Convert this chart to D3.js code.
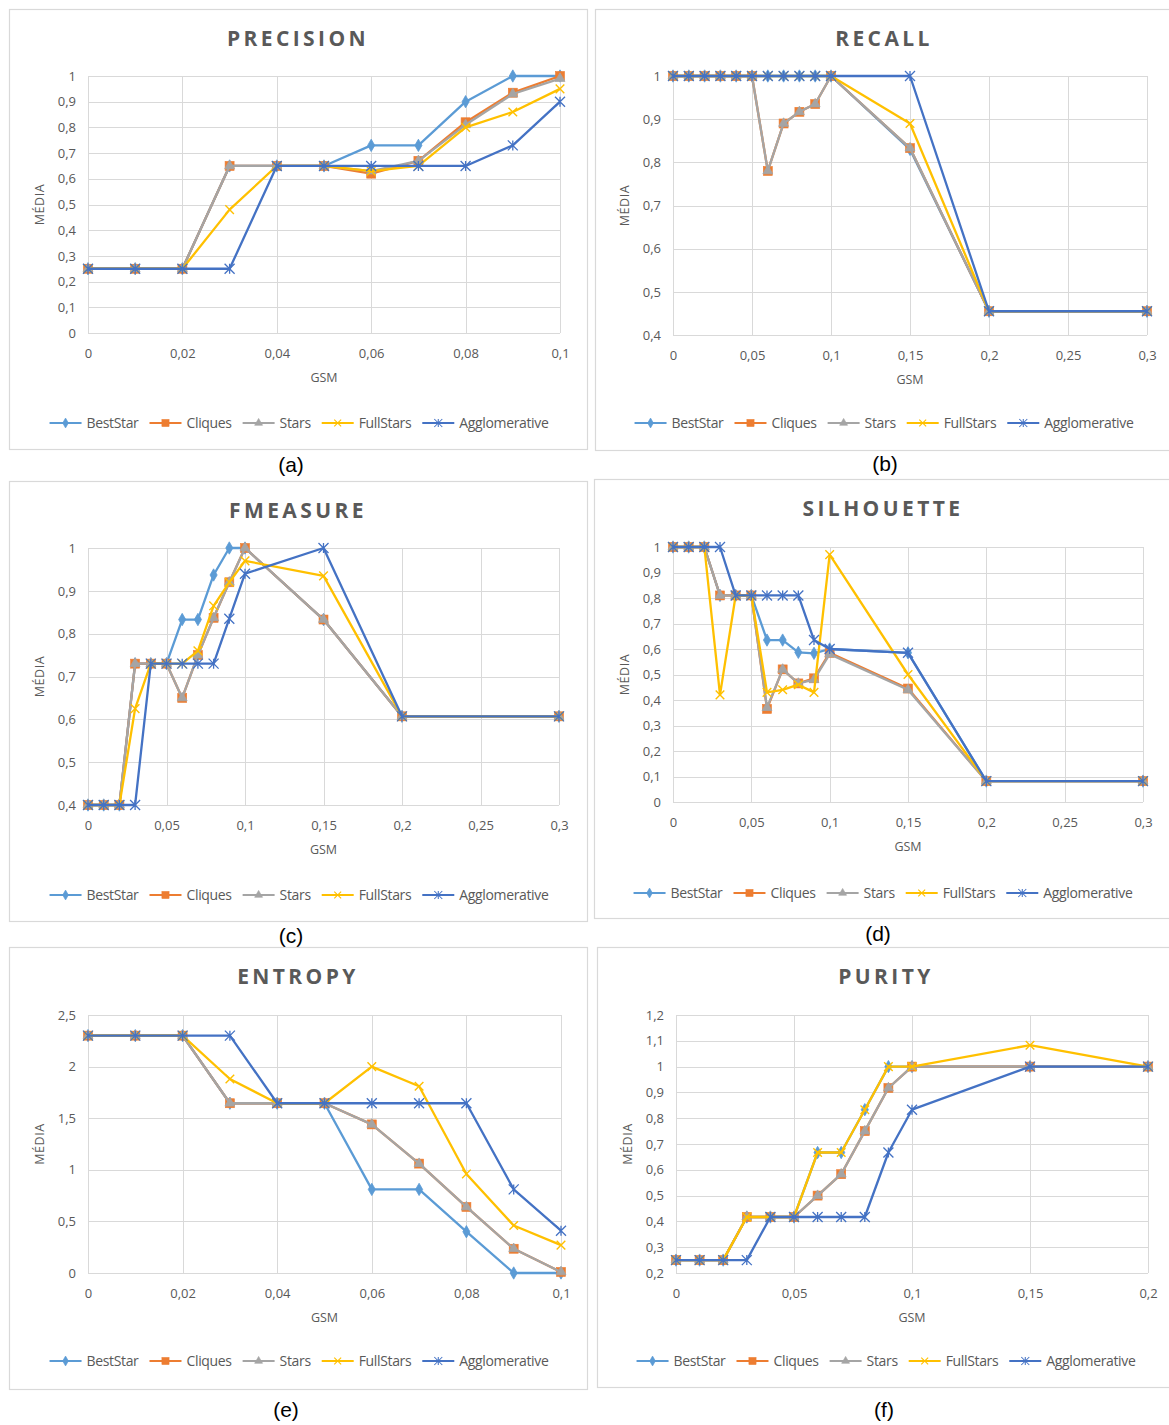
<!DOCTYPE html>
<html>
<head>
<meta charset="utf-8">
<script src="https://cdn.jsdelivr.net/npm/d3@7"></script>
<style>
  html, body { margin: 0; padding: 0; background: #ffffff; }
  svg { display: block; }
</style>
</head>
<body>
<svg id="fig" width="1169" height="1425"></svg>
<script>
// ---- GSM thresholds (x values) ----
const gsmShort = [0, 0.01, 0.02, 0.03, 0.04, 0.05, 0.06, 0.07, 0.08, 0.09, 0.1];
const gsmLong  = [0, 0.01, 0.02, 0.03, 0.04, 0.05, 0.06, 0.07, 0.08, 0.09, 0.1, 0.15, 0.2, 0.3];
const gsmMid   = [0, 0.01, 0.02, 0.03, 0.04, 0.05, 0.06, 0.07, 0.08, 0.09, 0.1, 0.15, 0.2];

// ---- algorithms ----
const algorithms = ["BestStar", "Cliques", "Stars", "FullStars", "Agglomerative"];
const colors = ["#5b9bd5", "#ed7d31", "#a5a5a5", "#ffc000", "#4472c4"];

// ---- mean values per metric (one row per algorithm, same order as above) ----
const precisionValues = [
  [0.25, 0.25, 0.25, 0.65, 0.65, 0.65, 0.73, 0.73, 0.90, 1.00, 1.00],
  [0.25, 0.25, 0.25, 0.65, 0.65, 0.65, 0.62, 0.67, 0.82, 0.935, 1.00],
  [0.25, 0.25, 0.25, 0.65, 0.65, 0.65, 0.63, 0.67, 0.81, 0.93, 0.99],
  [0.25, 0.25, 0.25, 0.48, 0.65, 0.65, 0.63, 0.65, 0.80, 0.86, 0.95],
  [0.25, 0.25, 0.25, 0.25, 0.65, 0.65, 0.65, 0.65, 0.65, 0.73, 0.90]
];
const recallValues = [
  [1, 1, 1, 1, 1, 1, 1, 1, 1, 1, 1, 0.83, 0.455, 0.455],
  [1, 1, 1, 1, 1, 1, 0.78, 0.89, 0.917, 0.935, 1, 0.833, 0.455, 0.455],
  [1, 1, 1, 1, 1, 1, 0.78, 0.89, 0.917, 0.935, 1, 0.833, 0.455, 0.455],
  [1, 1, 1, 1, 1, 1, 1, 1, 1, 1, 1, 0.89, 0.455, 0.455],
  [1, 1, 1, 1, 1, 1, 1, 1, 1, 1, 1, 1, 0.455, 0.455]
];
const fmeasureValues = [
  [0.4, 0.4, 0.4, 0.73, 0.73, 0.73, 0.833, 0.833, 0.937, 1, 1, 0.833, 0.607, 0.607],
  [0.4, 0.4, 0.4, 0.73, 0.73, 0.73, 0.65, 0.75, 0.837, 0.92, 1, 0.833, 0.607, 0.607],
  [0.4, 0.4, 0.4, 0.73, 0.73, 0.73, 0.65, 0.75, 0.837, 0.92, 1, 0.833, 0.607, 0.607],
  [0.4, 0.4, 0.4, 0.625, 0.73, 0.73, 0.73, 0.76, 0.865, 0.92, 0.97, 0.935, 0.607, 0.607],
  [0.4, 0.4, 0.4, 0.4, 0.73, 0.73, 0.73, 0.73, 0.73, 0.835, 0.94, 1, 0.607, 0.607]
];
const silhouetteValues = [
  [1, 1, 1, 0.81, 0.81, 0.81, 0.635, 0.635, 0.587, 0.583, 0.6, 0.585, 0.082, 0.082],
  [1, 1, 1, 0.81, 0.81, 0.81, 0.365, 0.52, 0.465, 0.485, 0.585, 0.445, 0.082, 0.082],
  [1, 1, 1, 0.81, 0.81, 0.81, 0.37, 0.52, 0.465, 0.48, 0.58, 0.44, 0.082, 0.082],
  [1, 1, 1, 0.42, 0.81, 0.81, 0.43, 0.44, 0.46, 0.43, 0.97, 0.5, 0.082, 0.082],
  [1, 1, 1, 1, 0.81, 0.81, 0.81, 0.81, 0.81, 0.635, 0.6, 0.585, 0.082, 0.082]
];
const entropyValues = [
  [2.3, 2.3, 2.3, 1.645, 1.645, 1.645, 0.81, 0.81, 0.40, 0, 0],
  [2.3, 2.3, 2.3, 1.645, 1.645, 1.645, 1.44, 1.06, 0.64, 0.235, 0.01],
  [2.3, 2.3, 2.3, 1.645, 1.645, 1.645, 1.44, 1.06, 0.64, 0.235, 0.01],
  [2.3, 2.3, 2.3, 1.88, 1.645, 1.645, 2.0, 1.81, 0.96, 0.46, 0.27],
  [2.3, 2.3, 2.3, 2.3, 1.645, 1.645, 1.645, 1.645, 1.645, 0.81, 0.41]
];
const purityValues = [
  [0.25, 0.25, 0.25, 0.417, 0.417, 0.417, 0.667, 0.667, 0.833, 1, 1, 1, 1],
  [0.25, 0.25, 0.25, 0.417, 0.417, 0.417, 0.5, 0.583, 0.75, 0.917, 1, 1, 1],
  [0.25, 0.25, 0.25, 0.417, 0.417, 0.417, 0.5, 0.583, 0.75, 0.917, 1, 1, 1],
  [0.25, 0.25, 0.25, 0.417, 0.417, 0.417, 0.667, 0.667, 0.833, 1, 1, 1.083, 1],
  [0.25, 0.25, 0.25, 0.25, 0.417, 0.417, 0.417, 0.417, 0.417, 0.667, 0.833, 1, 1]
];

// ---- axis tick values ----
const xTicksShort = [0, 0.02, 0.04, 0.06, 0.08, 0.1];
const xTicksLong  = [0, 0.05, 0.1, 0.15, 0.2, 0.25, 0.3];
const xTicksMid   = [0, 0.05, 0.1, 0.15, 0.2];
const yTicksUnit  = [0, 0.1, 0.2, 0.3, 0.4, 0.5, 0.6, 0.7, 0.8, 0.9, 1];
const yTicksHigh  = [0.4, 0.5, 0.6, 0.7, 0.8, 0.9, 1];
const yTicksEntropy = [0, 0.5, 1, 1.5, 2, 2.5];
const yTicksPurity  = [0.2, 0.3, 0.4, 0.5, 0.6, 0.7, 0.8, 0.9, 1, 1.1, 1.2];

// ---- panel layout ----
const panels = [
  { title: "PRECISION",  tag: "(a)", x: gsmShort, values: precisionValues,  xTicks: xTicksShort, yTicks: yTicksUnit,
    box: [9, 9, 578, 440],  plot: [88, 76, 560, 333],  tagPos: [291, 465] },
  { title: "RECALL",     tag: "(b)", x: gsmLong,  values: recallValues,     xTicks: xTicksLong,  yTicks: yTicksHigh,
    box: [595, 9, 590, 441], plot: [673, 76, 1147, 335], tagPos: [885, 464] },
  { title: "FMEASURE",   tag: "(c)", x: gsmLong,  values: fmeasureValues,   xTicks: xTicksLong,  yTicks: yTicksHigh,
    box: [9, 481, 578, 440], plot: [88, 548, 559, 805], tagPos: [291, 936] },
  { title: "SILHOUETTE", tag: "(d)", x: gsmLong,  values: silhouetteValues, xTicks: xTicksLong,  yTicks: yTicksUnit,
    box: [594, 479, 590, 439], plot: [673, 547, 1143, 802], tagPos: [878, 934] },
  { title: "ENTROPY",    tag: "(e)", x: gsmShort, values: entropyValues,    xTicks: xTicksShort, yTicks: yTicksEntropy,
    box: [9, 947, 578, 442], plot: [88, 1015, 561, 1273], tagPos: [286, 1410] },
  { title: "PURITY",     tag: "(f)", x: gsmMid,   values: purityValues,     xTicks: xTicksMid,   yTicks: yTicksPurity,
    box: [597, 947, 590, 440], plot: [676, 1015, 1148, 1273], tagPos: [884, 1410] }
];

const textColor = "#595959";
const gridColor = "#d9d9d9";
const font = "'Open Sans', 'DejaVu Sans', sans-serif";
const fmt = d => String(+d.toFixed(3)).replace(".", ",");

// marker glyphs per algorithm
function marker(sel, i, color) {
  const r = 4.3;
  if (i === 0) {
    sel.append("path").attr("d", d3.symbol(d3.symbolDiamond, 44)())
      .attr("fill", color).attr("stroke", color).attr("stroke-width", 0.8);
  } else if (i === 1) {
    sel.append("rect").attr("x", -4.5).attr("y", -4.5).attr("width", 9).attr("height", 9)
      .attr("fill", color).attr("stroke", color).attr("stroke-width", 0.6);
  } else if (i === 2) {
    sel.append("path").attr("d", d3.symbol(d3.symbolTriangle, 42)())
      .attr("fill", color).attr("stroke", color).attr("stroke-width", 0.8);
  } else if (i === 3) {
    sel.append("path").attr("d", `M${-r},${-r}L${r},${r}M${-r},${r}L${r},${-r}`)
      .attr("fill", "none").attr("stroke", color).attr("stroke-width", 1.4);
  } else {
    const q = 5;
    sel.append("path").attr("d", `M${-q},${-q}L${q},${q}M${-q},${q}L${q},${-q}M0,${-q}L0,${q}`)
      .attr("fill", "none").attr("stroke", color).attr("stroke-width", 1.3);
  }
}

const svg = d3.select("#fig");

panels.forEach(p => {
  const [bx, by, bw, bh] = p.box;
  const [pl, pt, pr, pb] = p.plot;
  const g = svg.append("g");

  // chart frame
  g.append("rect").attr("x", bx + 0.5).attr("y", by + 0.5).attr("width", bw).attr("height", bh)
    .attr("fill", "#ffffff").attr("stroke", gridColor).attr("stroke-width", 1.2);

  const x = d3.scaleLinear().domain(d3.extent(p.xTicks)).range([pl, pr]);
  const y = d3.scaleLinear().domain(d3.extent(p.yTicks)).range([pb, pt]);

  // gridlines
  g.append("g").selectAll("line.h").data(p.yTicks).join("line")
    .attr("x1", pl).attr("x2", pr).attr("y1", d => Math.round(y(d)) + 0.5).attr("y2", d => Math.round(y(d)) + 0.5)
    .attr("stroke", gridColor).attr("stroke-width", 1);
  g.append("g").selectAll("line.v").data(p.xTicks).join("line")
    .attr("y1", pt).attr("y2", pb).attr("x1", d => Math.round(x(d)) + 0.5).attr("x2", d => Math.round(x(d)) + 0.5)
    .attr("stroke", gridColor).attr("stroke-width", 1);

  // axes (labels only, no domain lines)
  const yAxis = g.append("g").attr("transform", `translate(${pl - 8},0)`)
    .call(d3.axisLeft(y).tickValues(p.yTicks).tickFormat(fmt).tickSize(0).tickPadding(4));
  const xAxis = g.append("g").attr("transform", `translate(0,${pb + 12})`)
    .call(d3.axisBottom(x).tickValues(p.xTicks).tickFormat(fmt).tickSize(0).tickPadding(4));
  [yAxis, xAxis].forEach(a => {
    a.select(".domain").remove();
    a.selectAll("text").attr("fill", textColor).attr("font-size", 13).attr("font-family", font);
  });

  // title
  g.append("text").attr("x", bx + bw / 2 - (bw > 580 ? 6 : 0)).attr("y", by + 37)
    .attr("text-anchor", "middle").attr("fill", textColor)
    .attr("font-family", font).attr("font-weight", 700).attr("font-size", 21)
    .attr("letter-spacing", 3.4).text(p.title);

  // axis titles
  g.append("text").attr("x", (pl + pr) / 2).attr("y", pb + 49)
    .attr("text-anchor", "middle").attr("fill", textColor)
    .attr("font-family", font).attr("font-size", 12.5).text("GSM");
  g.append("text").attr("transform", `translate(${pl - 44},${(pt + pb) / 2}) rotate(-90)`)
    .attr("text-anchor", "middle").attr("fill", textColor)
    .attr("font-family", font).attr("font-size", 12.5).attr("letter-spacing", 0.6).text("MÉDIA");

  // series lines and markers
  const line = d3.line().x(d => x(d[0])).y(d => y(d[1]));
  p.values.forEach((vals, i) => {
    const pts = p.x.map((gx, k) => [gx, vals[k]]);
    g.append("path").datum(pts).attr("d", line)
      .attr("fill", "none").attr("stroke", colors[i]).attr("stroke-width", 2.3)
      .attr("stroke-linejoin", "round");
    g.append("g").selectAll("g").data(pts).join("g")
      .attr("transform", d => `translate(${x(d[0])},${y(d[1])})`)
      .each(function () { marker(d3.select(this), i, colors[i]); });
  });

  // legend
  const legend = g.append("g");
  let cx = 0;
  const gap = 11;
  algorithms.forEach((name, i) => {
    const item = legend.append("g").attr("transform", `translate(${cx},0)`);
    item.append("line").attr("x1", 0).attr("x2", 32).attr("y1", 0).attr("y2", 0)
      .attr("stroke", colors[i]).attr("stroke-width", 2.2);
    const m = item.append("g").attr("transform", "translate(16,0) scale(0.8)");
    marker(m, i, colors[i]);
    const t = item.append("text").attr("x", 37).attr("y", 5)
      .attr("fill", textColor).attr("font-family", font).attr("font-size", 14)
      .attr("letter-spacing", -0.35).text(name);
    cx += 37 + t.node().getComputedTextLength() + gap;
  });
  const legendWidth = cx - gap;
  const legendLeft = (bw > 580 ? bx + 289 : bx + bw / 2 + 1) - legendWidth / 2;
  legend.attr("transform", `translate(${legendLeft},${by + 414})`);

  // panel tag
  svg.append("text").attr("x", p.tagPos[0]).attr("y", p.tagPos[1] + 7)
    .attr("text-anchor", "middle").attr("fill", "#000000")
    .attr("font-family", "'Liberation Sans', Arial, sans-serif").attr("font-size", 21)
    .text(p.tag);
});
</script>
</body>
</html>
